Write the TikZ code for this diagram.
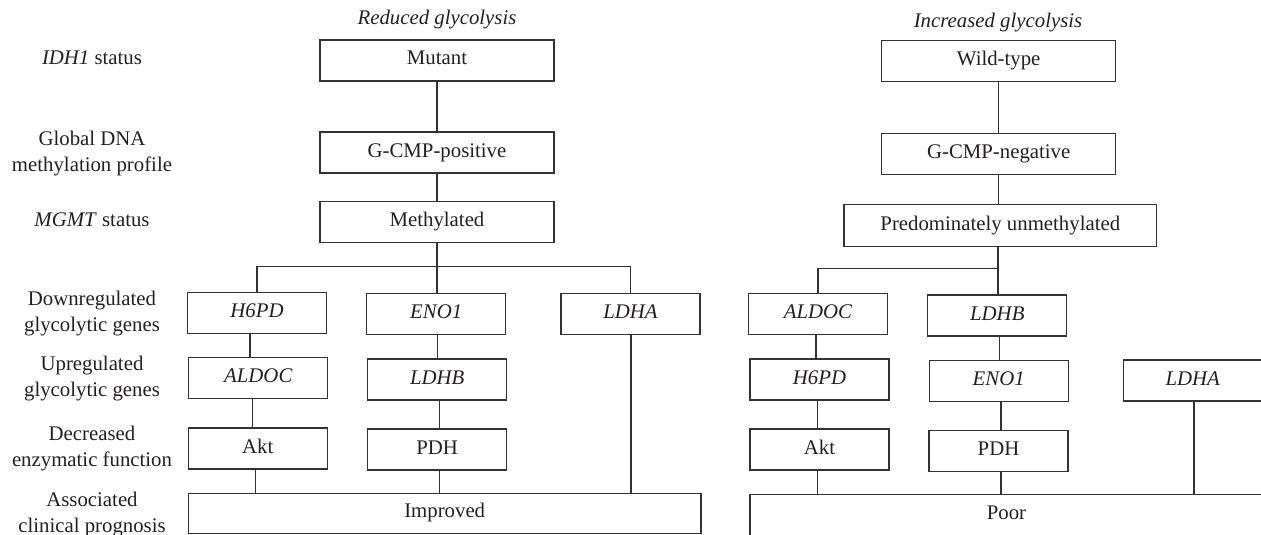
\documentclass[tikz,border=0pt]{standalone}
\usepackage{fontspec}
\setmainfont{Liberation Serif}
\definecolor{ink}{RGB}{35,31,32}
\definecolor{rulecol}{RGB}{50,50,50}
\begin{document}
\begin{tikzpicture}[x=1pt,y=-1pt,
  font=\fontsize{20.8}{26}\selectfont,
  every node/.style={text=ink},
  box/.style={draw=rulecol, line width=1.2pt, inner sep=0pt,
    text height=13.5pt, text depth=4.5pt},
  genebox/.style={box, minimum width=139pt, minimum height=41pt, font=\fontsize{20.8}{26}\selectfont\itshape},
  enzbox/.style={box, minimum width=139pt, minimum height=41pt},
  widebox/.style={box, minimum width=234pt, minimum height=41pt},
  link/.style={draw=rulecol, line width=1.2pt},
  rowlabel/.style={align=center, inner sep=0pt},
  branchtitle/.style={font=\fontsize{20.8}{26}\selectfont\itshape, anchor=base, inner sep=0pt}]
\clip (0,0) rectangle (1261,535);

% row labels
\node[rowlabel, anchor=base] (lIDH) at (92,65) {\textit{IDH1} status};
\node[rowlabel] (lDNA) at (92,153.6) {Global DNA\\methylation profile};
\node[rowlabel, anchor=base] (lMGMT) at (92,226.7) {\textit{MGMT} status};
\node[rowlabel] (lDown) at (92,313.2) {Downregulated\\glycolytic genes};
\node[rowlabel] (lUp) at (92,378.2) {Upregulated\\glycolytic genes};
\node[rowlabel] (lDec) at (92,448.2) {Decreased\\enzymatic function};
\node[rowlabel] (lAss) at (92,514.2) {Associated\\clinical prognosis};

% titles
\node[branchtitle] (tRed) at (437,25) {Reduced glycolysis};
\node[branchtitle] (tInc) at (998,28) {Increased glycolysis};

% reduced glycolysis branch
\node[widebox] (mutant) at (437,60.5) {Mutant};
\node[widebox] (gpos) at (437,152.5) {G-CMP-positive};
\node[widebox] (meth) at (437,222.2) {Methylated};
\node[genebox] (h6pdL) at (257,313) {H6PD};
\node[genebox] (eno1L) at (436.2,314) {ENO1};
\node[genebox] (ldhaL) at (630.5,314) {LDHA};
\node[genebox] (aldocL) at (258.3,378) {ALDOC};
\node[genebox] (ldhbL) at (437.2,379.5) {LDHB};
\node[enzbox] (aktL) at (257.8,448.5) {Akt};
\node[enzbox] (pdhL) at (437.2,449.5) {PDH};
\node[box, minimum width=512.7pt, minimum height=40pt] (improved) at (444.7,513.3) {Improved};

% increased glycolysis branch
\node[widebox] (wild) at (998.7,61.2) {Wild-type};
\node[widebox] (gneg) at (998.7,153.7) {G-CMP-negative};
\node[box, minimum width=312.7pt, minimum height=42.4pt] (unmeth) at (1000.3,225.5) {Predominately unmethylated};
\node[genebox] (aldocR) at (818,314) {ALDOC};
\node[genebox] (ldhbR) at (997.3,315.5) {LDHB};
\node[genebox] (h6pdR) at (819.5,379.5) {H6PD};
\node[genebox] (eno1R) at (998.7,381.2) {ENO1};
\node[genebox] (ldhaR) at (1192.7,380.5) {LDHA};
\node[enzbox] (aktR) at (819.5,449.5) {Akt};
\node[enzbox] (pdhR) at (998.5,450.7) {PDH};
\node[box, minimum width=513pt, minimum height=42pt] (poor) at (1006.5,515.3) {Poor};

% connectors, reduced branch
\draw[link] (mutant) -- (gpos);
\draw[link] (gpos) -- (meth);
\coordinate (jL) at (437,266.7);
\draw[link] (meth.south) -- (meth.south |- jL);
\draw[link] (h6pdL.north) |- (ldhaL.north |- jL) -- (ldhaL.north);
\draw[link] (jL) -- (jL |- eno1L.north);
\draw[link] ([xshift=-7pt]h6pdL.south) -- ([xshift=-7pt]h6pdL.south |- aldocL.north);
\draw[link] ([xshift=-6pt]aldocL.south) -- ([xshift=-6pt]aldocL.south |- aktL.north);
\draw[link] ([xshift=-2pt]aktL.south) -- ([xshift=-2pt]aktL.south |- improved.north);
\draw[link] ([xshift=1.5pt]eno1L.south) -- ([xshift=1.5pt]eno1L.south |- ldhbL.north);
\draw[link] ([xshift=2pt]ldhbL.south) -- ([xshift=2pt]ldhbL.south |- pdhL.north);
\draw[link] ([xshift=2pt]pdhL.south) -- ([xshift=2pt]pdhL.south |- improved.north);
\draw[link] ([xshift=0.5pt]ldhaL.south) -- ([xshift=0.5pt]ldhaL.south |- improved.north);

% connectors, increased branch
\draw[link] (wild) -- (gneg);
\draw[link] (gneg.south) -- (gneg.south |- unmeth.north);
\coordinate (jR) at (998,268.3);
\draw[link] (jR |- unmeth.south) -- (jR);
\draw[link] (jR) -| (aldocR.north);
\draw[link] (jR) -- (jR |- ldhbR.north);
\draw[link] ([xshift=-2pt]aldocR.south) -- ([xshift=-2pt]aldocR.south |- h6pdR.north);
\draw[link] ([xshift=-2pt]h6pdR.south) -- ([xshift=-2pt]h6pdR.south |- aktR.north);
\draw[link] ([xshift=-2pt]aktR.south) -- ([xshift=-2pt]aktR.south |- poor.north);
\draw[link] ([xshift=2.4pt]ldhbR.south) -- ([xshift=2.4pt]ldhbR.south |- eno1R.north);
\draw[link] ([xshift=2.3pt]eno1R.south) -- ([xshift=2.3pt]eno1R.south |- pdhR.north);
\draw[link] ([xshift=2.5pt]pdhR.south) -- ([xshift=2.5pt]pdhR.south |- poor.north);
\draw[link] ([xshift=1.3pt]ldhaR.south) -- ([xshift=1.3pt]ldhaR.south |- poor.north);
\end{tikzpicture}
\end{document}
